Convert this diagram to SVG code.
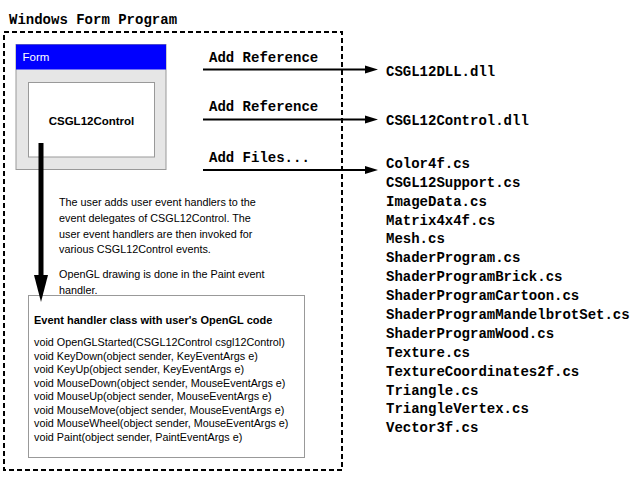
<svg xmlns="http://www.w3.org/2000/svg" width="640" height="480" viewBox="0 0 640 480">
<defs>
<style>
.mono{font-family:"Liberation Mono","Courier New",monospace;font-weight:bold;font-size:14px;fill:#000}
.sans{font-family:"Liberation Sans",Arial,sans-serif;font-size:10.8px;fill:#000}
.b{font-weight:bold}
.conn{stroke:#000;stroke-width:2;fill:none}
.head{fill:#000}
</style>
</defs>
<rect width="640" height="480" fill="#fff"/>
<text class="mono" x="9" y="24">Windows Form Program</text>
<rect x="4" y="32" width="338" height="438" fill="none" stroke="#000" stroke-width="2" stroke-dasharray="5 3"/>
<g id="form">
<rect x="16" y="44.5" width="150" height="125" fill="#e6e6e6" stroke="#999"/>
<rect x="16" y="44.5" width="150" height="25" fill="#0000ff"/>
<text class="sans" x="22.5" y="61" style="fill:#fff;font-size:11.5px">Form</text>
</g>
<g id="csgl12control">
<rect x="28.5" y="82.5" width="126" height="74.5" fill="#fff" stroke="#999"/>
<text class="sans b" x="91.5" y="125" text-anchor="middle" style="font-size:11.5px">CSGL12Control</text>
</g>
<g id="note">
<text class="sans"><tspan x="59" y="206">The user adds user event handlers to the</tspan><tspan x="59" y="222">event delegates of CSGL12Control.  The</tspan><tspan x="59" y="238">user event handlers are then invoked for</tspan><tspan x="59" y="253">various CSGL12Control events.</tspan><tspan x="59" y="278">OpenGL drawing is done in the Paint event</tspan><tspan x="59" y="294">handler.</tspan></text>
</g>
<g id="handler">
<rect x="28.5" y="295.5" width="276" height="162" fill="#fff" stroke="#999"/>
<text class="sans b" x="34" y="324" style="font-size:11px">Event handler class with user's OpenGL code</text>
<text class="sans"><tspan x="34" y="346">void OpenGLStarted(CSGL12Control csgl12Control)</tspan><tspan x="34" y="359.5">void KeyDown(object sender, KeyEventArgs e)</tspan><tspan x="34" y="373">void KeyUp(object sender, KeyEventArgs e)</tspan><tspan x="34" y="386.5">void MouseDown(object sender, MouseEventArgs e)</tspan><tspan x="34" y="400">void MouseUp(object sender, MouseEventArgs e)</tspan><tspan x="34" y="413.5">void MouseMove(object sender, MouseEventArgs e)</tspan><tspan x="34" y="427">void MouseWheel(object sender, MouseEventArgs e)</tspan><tspan x="34" y="440.5">void Paint(object sender, PaintEventArgs e)</tspan></text>
</g>
<g id="dll1"><text class="mono" x="386" y="76">CSGL12DLL.dll</text></g>
<g id="dll2"><text class="mono" x="386" y="125">CSGL12Control.dll</text></g>
<g id="files">
<text class="mono"><tspan x="386" y="168">Color4f.cs</tspan><tspan x="386" y="187">CSGL12Support.cs</tspan><tspan x="386" y="205.5">ImageData.cs</tspan><tspan x="386" y="224.5">Matrix4x4f.cs</tspan><tspan x="386" y="243">Mesh.cs</tspan><tspan x="386" y="262">ShaderProgram.cs</tspan><tspan x="386" y="281">ShaderProgramBrick.cs</tspan><tspan x="386" y="300">ShaderProgramCartoon.cs</tspan><tspan x="386" y="319">ShaderProgramMandelbrotSet.cs</tspan><tspan x="386" y="337.5">ShaderProgramWood.cs</tspan><tspan x="386" y="356.5">Texture.cs</tspan><tspan x="386" y="375.5">TextureCoordinates2f.cs</tspan><tspan x="386" y="394.5">Triangle.cs</tspan><tspan x="386" y="413">TriangleVertex.cs</tspan><tspan x="386" y="432">Vector3f.cs</tspan></text>
</g>
<g id="connectors">
<line x1="41" y1="143" x2="41" y2="277" stroke="#000" stroke-width="5"/>
<polygon class="head" points="34,275 48,275 41,302"/>
<line class="conn" x1="203" y1="69.5" x2="366" y2="69.5"/>
<polygon class="head" points="365,65.5 378,69.5 365,73.5"/>
<text class="mono" x="209" y="62">Add Reference</text>
<line class="conn" x1="203" y1="119.5" x2="366" y2="119.5"/>
<polygon class="head" points="365,115.5 378,119.5 365,123.5"/>
<text class="mono" x="209" y="111">Add Reference</text>
<line class="conn" x1="203" y1="170" x2="366" y2="170"/>
<polygon class="head" points="365,166 378,170 365,174"/>
<text class="mono" x="209" y="162">Add Files...</text>
</g>
</svg>
